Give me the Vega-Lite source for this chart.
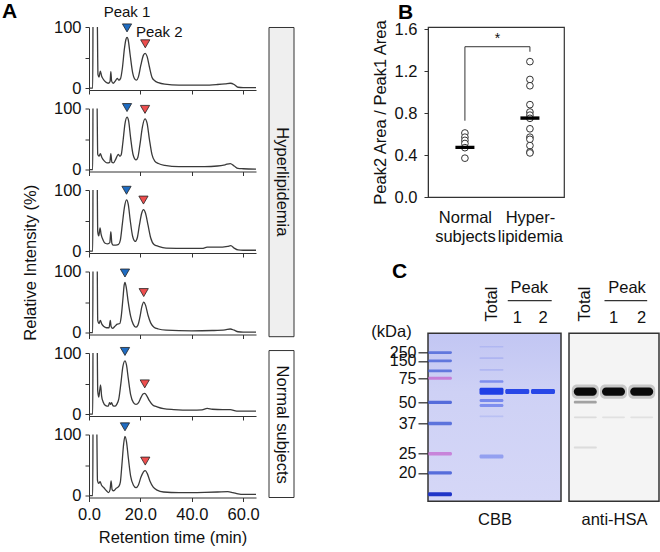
{
"$schema": "https://vega.github.io/schema/vega-lite/v6.json",
"padding": {"left": 2, "top": 1, "right": 0, "bottom": 0},
"datasets": {
"chrom": [
{"run":1,"t":0,"v":0},{"run":1,"t":1.45,"v":0},{"run":1,"t":1.6,"v":150},{"run":1,"t":3.1,"v":150},{"run":1,"t":3.5,"v":22},{"run":1,"t":3.9,"v":18},{"run":1,"t":4.4,"v":28},{"run":1,"t":4.9,"v":20},{"run":1,"t":5.5,"v":15},{"run":1,"t":6.5,"v":10},{"run":1,"t":7.5,"v":8},{"run":1,"t":8.2,"v":11},{"run":1,"t":8.5,"v":27},{"run":1,"t":8.8,"v":12},{"run":1,"t":9.4,"v":8},{"run":1,"t":10.3,"v":12},{"run":1,"t":11,"v":16},{"run":1,"t":11.6,"v":13},{"run":1,"t":12.3,"v":16},{"run":1,"t":13,"v":33},{"run":1,"t":13.8,"v":65},{"run":1,"t":14.4,"v":80},{"run":1,"t":14.8,"v":83},{"run":1,"t":15.2,"v":80},{"run":1,"t":16,"v":55},{"run":1,"t":17,"v":25},{"run":1,"t":18,"v":14},{"run":1,"t":18.5,"v":13},{"run":1,"t":19.2,"v":18},{"run":1,"t":20.2,"v":38},{"run":1,"t":21.2,"v":54},{"run":1,"t":21.9,"v":57},{"run":1,"t":22.6,"v":52},{"run":1,"t":23.5,"v":35},{"run":1,"t":24.5,"v":18},{"run":1,"t":25.6,"v":12},{"run":1,"t":27,"v":9},{"run":1,"t":29.5,"v":6.5},{"run":1,"t":35,"v":5},{"run":1,"t":45,"v":5},{"run":1,"t":50,"v":6},{"run":1,"t":53,"v":7},{"run":1,"t":55,"v":8},{"run":1,"t":56.5,"v":6},{"run":1,"t":58,"v":1.5},{"run":1,"t":60,"v":1},{"run":1,"t":65,"v":1},
{"run":2,"t":0,"v":0},{"run":2,"t":1.45,"v":0},{"run":2,"t":1.6,"v":150},{"run":2,"t":3.0,"v":150},{"run":2,"t":3.4,"v":25},{"run":2,"t":3.9,"v":22},{"run":2,"t":4.4,"v":26},{"run":2,"t":5.0,"v":20},{"run":2,"t":6.0,"v":14},{"run":2,"t":7.0,"v":11},{"run":2,"t":8.1,"v":12},{"run":2,"t":8.5,"v":26},{"run":2,"t":8.9,"v":12},{"run":2,"t":9.5,"v":11},{"run":2,"t":10.5,"v":18},{"run":2,"t":11.4,"v":25},{"run":2,"t":12.0,"v":22},{"run":2,"t":12.5,"v":24},{"run":2,"t":13.2,"v":45},{"run":2,"t":14.0,"v":75},{"run":2,"t":14.8,"v":86},{"run":2,"t":15.4,"v":80},{"run":2,"t":16.2,"v":52},{"run":2,"t":17.2,"v":24},{"run":2,"t":18.3,"v":16},{"run":2,"t":19.0,"v":20},{"run":2,"t":19.8,"v":40},{"run":2,"t":20.8,"v":70},{"run":2,"t":21.8,"v":83},{"run":2,"t":22.6,"v":76},{"run":2,"t":23.5,"v":50},{"run":2,"t":24.5,"v":25},{"run":2,"t":25.6,"v":14},{"run":2,"t":27,"v":10},{"run":2,"t":29.5,"v":7},{"run":2,"t":35,"v":5},{"run":2,"t":45,"v":5},{"run":2,"t":50,"v":6},{"run":2,"t":53,"v":8},{"run":2,"t":55,"v":10},{"run":2,"t":56.5,"v":6},{"run":2,"t":58,"v":2},{"run":2,"t":60,"v":1.5},{"run":2,"t":65,"v":1},
{"run":3,"t":0,"v":0},{"run":3,"t":1.45,"v":0},{"run":3,"t":1.6,"v":150},{"run":3,"t":3.1,"v":150},{"run":3,"t":3.4,"v":32},{"run":3,"t":3.8,"v":25},{"run":3,"t":4.3,"v":38},{"run":3,"t":4.7,"v":28},{"run":3,"t":5.5,"v":18},{"run":3,"t":6.3,"v":13},{"run":3,"t":7.3,"v":12},{"run":3,"t":8.1,"v":14},{"run":3,"t":8.5,"v":32},{"run":3,"t":8.9,"v":13},{"run":3,"t":9.4,"v":10},{"run":3,"t":10.5,"v":10},{"run":3,"t":11.5,"v":11},{"run":3,"t":12.2,"v":18},{"run":3,"t":13.0,"v":45},{"run":3,"t":13.8,"v":72},{"run":3,"t":14.6,"v":84},{"run":3,"t":15.3,"v":76},{"run":3,"t":16.0,"v":52},{"run":3,"t":17.0,"v":24},{"run":3,"t":18.0,"v":16},{"run":3,"t":18.8,"v":22},{"run":3,"t":19.6,"v":42},{"run":3,"t":20.5,"v":62},{"run":3,"t":21.2,"v":68},{"run":3,"t":22.0,"v":62},{"run":3,"t":23.0,"v":42},{"run":3,"t":24.0,"v":22},{"run":3,"t":25.3,"v":11},{"run":3,"t":27,"v":8},{"run":3,"t":30,"v":5},{"run":3,"t":38,"v":4.5},{"run":3,"t":44,"v":4.5},{"run":3,"t":46,"v":6.5},{"run":3,"t":50,"v":6.5},{"run":3,"t":54,"v":8},{"run":3,"t":55.2,"v":9},{"run":3,"t":56.5,"v":5},{"run":3,"t":58,"v":2},{"run":3,"t":60,"v":1.5},{"run":3,"t":65,"v":1.5},
{"run":4,"t":0,"v":0},{"run":4,"t":1.45,"v":0},{"run":4,"t":1.6,"v":150},{"run":4,"t":3.1,"v":150},{"run":4,"t":3.4,"v":20},{"run":4,"t":3.9,"v":15},{"run":4,"t":4.4,"v":20},{"run":4,"t":5.0,"v":14},{"run":4,"t":5.8,"v":10},{"run":4,"t":6.8,"v":8},{"run":4,"t":7.8,"v":8},{"run":4,"t":8.3,"v":20},{"run":4,"t":8.6,"v":10},{"run":4,"t":9.2,"v":7},{"run":4,"t":10.0,"v":10},{"run":4,"t":11.0,"v":14},{"run":4,"t":12.0,"v":15},{"run":4,"t":12.5,"v":25},{"run":4,"t":13.2,"v":55},{"run":4,"t":13.7,"v":78},{"run":4,"t":14.0,"v":82},{"run":4,"t":14.5,"v":74},{"run":4,"t":15.2,"v":52},{"run":4,"t":16.2,"v":27},{"run":4,"t":17.2,"v":14},{"run":4,"t":18.2,"v":9},{"run":4,"t":19.0,"v":12},{"run":4,"t":19.8,"v":25},{"run":4,"t":20.6,"v":43},{"run":4,"t":21.3,"v":50},{"run":4,"t":22.0,"v":45},{"run":4,"t":23.0,"v":28},{"run":4,"t":24.0,"v":16},{"run":4,"t":25.3,"v":9},{"run":4,"t":27,"v":6},{"run":4,"t":30,"v":4},{"run":4,"t":40,"v":3},{"run":4,"t":48,"v":3.5},{"run":4,"t":53,"v":4.5},{"run":4,"t":55,"v":6},{"run":4,"t":56.5,"v":4},{"run":4,"t":58,"v":1.5},{"run":4,"t":60,"v":1},{"run":4,"t":65,"v":1},
{"run":5,"t":0,"v":0},{"run":5,"t":1.45,"v":0},{"run":5,"t":1.6,"v":150},{"run":5,"t":3.1,"v":150},{"run":5,"t":3.4,"v":38},{"run":5,"t":3.8,"v":28},{"run":5,"t":4.2,"v":40},{"run":5,"t":4.5,"v":48},{"run":5,"t":4.9,"v":30},{"run":5,"t":5.5,"v":20},{"run":5,"t":6.5,"v":14},{"run":5,"t":7.5,"v":13},{"run":5,"t":8.0,"v":19},{"run":5,"t":8.4,"v":16},{"run":5,"t":8.8,"v":19},{"run":5,"t":9.3,"v":14},{"run":5,"t":10.0,"v":13},{"run":5,"t":10.8,"v":16},{"run":5,"t":11.6,"v":25},{"run":5,"t":12.4,"v":50},{"run":5,"t":13.2,"v":78},{"run":5,"t":14.0,"v":87},{"run":5,"t":14.6,"v":80},{"run":5,"t":15.3,"v":58},{"run":5,"t":16.2,"v":32},{"run":5,"t":17.3,"v":19},{"run":5,"t":18.3,"v":16},{"run":5,"t":19.3,"v":19},{"run":5,"t":20.2,"v":27},{"run":5,"t":21.0,"v":33},{"run":5,"t":21.7,"v":34},{"run":5,"t":22.5,"v":30},{"run":5,"t":23.5,"v":22},{"run":5,"t":24.8,"v":15},{"run":5,"t":26.5,"v":12},{"run":5,"t":29,"v":9},{"run":5,"t":33,"v":7.5},{"run":5,"t":40,"v":6.5},{"run":5,"t":44,"v":7},{"run":5,"t":46,"v":9.5},{"run":5,"t":48,"v":8},{"run":5,"t":52,"v":7.5},{"run":5,"t":55,"v":7.5},{"run":5,"t":57.5,"v":5},{"run":5,"t":60,"v":5},{"run":5,"t":65,"v":5},
{"run":6,"t":0,"v":0},{"run":6,"t":1.45,"v":0},{"run":6,"t":1.6,"v":150},{"run":6,"t":2.9,"v":150},{"run":6,"t":3.3,"v":25},{"run":6,"t":3.8,"v":20},{"run":6,"t":4.3,"v":23},{"run":6,"t":4.9,"v":17},{"run":6,"t":5.8,"v":13},{"run":6,"t":6.8,"v":8},{"run":6,"t":7.6,"v":5},{"run":6,"t":8.2,"v":10},{"run":6,"t":8.6,"v":24},{"run":6,"t":9.0,"v":10},{"run":6,"t":9.6,"v":8},{"run":6,"t":10.6,"v":12},{"run":6,"t":11.6,"v":15},{"run":6,"t":12.2,"v":22},{"run":6,"t":12.8,"v":50},{"run":6,"t":13.5,"v":85},{"run":6,"t":14.0,"v":97},{"run":6,"t":14.6,"v":88},{"run":6,"t":15.3,"v":62},{"run":6,"t":16.2,"v":32},{"run":6,"t":17.3,"v":17},{"run":6,"t":18.3,"v":13},{"run":6,"t":19.2,"v":17},{"run":6,"t":20.2,"v":30},{"run":6,"t":21.2,"v":39},{"run":6,"t":21.9,"v":41},{"run":6,"t":22.7,"v":36},{"run":6,"t":23.7,"v":24},{"run":6,"t":25.0,"v":14},{"run":6,"t":26.5,"v":9},{"run":6,"t":29,"v":6},{"run":6,"t":35,"v":5},{"run":6,"t":45,"v":5.5},{"run":6,"t":50,"v":6},{"run":6,"t":54,"v":6.5},{"run":6,"t":56,"v":5},{"run":6,"t":58,"v":3},{"run":6,"t":60,"v":2},{"run":6,"t":65,"v":2}
],
"peaks": [
{"run":1,"peak":"Peak 1","t":14.8,"v":83},{"run":1,"peak":"Peak 2","t":21.9,"v":57},
{"run":2,"peak":"Peak 1","t":14.8,"v":86},{"run":2,"peak":"Peak 2","t":21.8,"v":83},
{"run":3,"peak":"Peak 1","t":14.6,"v":84},{"run":3,"peak":"Peak 2","t":21.2,"v":68},
{"run":4,"peak":"Peak 1","t":14.0,"v":82},{"run":4,"peak":"Peak 2","t":21.3,"v":50},
{"run":5,"peak":"Peak 1","t":14.0,"v":87},{"run":5,"peak":"Peak 2","t":21.7,"v":34},
{"run":6,"peak":"Peak 1","t":14.0,"v":97},{"run":6,"peak":"Peak 2","t":21.9,"v":41}
],
"groups": [
{"group":"Hyperlipidemia","y0":0.006,"y1":3.80,"ym":1.90},
{"group":"Normal subjects","y0":3.97,"y1":5.773,"ym":4.88}
],
"ratios": [
{"group":"Normal subjects","ratio":0.61},{"group":"Normal subjects","ratio":0.57},{"group":"Normal subjects","ratio":0.54},{"group":"Normal subjects","ratio":0.51},{"group":"Normal subjects","ratio":0.47},{"group":"Normal subjects","ratio":0.37},
{"group":"Hyperlipidemia","ratio":1.29},{"group":"Hyperlipidemia","ratio":1.12},{"group":"Hyperlipidemia","ratio":1.06},{"group":"Hyperlipidemia","ratio":0.88},{"group":"Hyperlipidemia","ratio":0.81},{"group":"Hyperlipidemia","ratio":0.78},{"group":"Hyperlipidemia","ratio":0.75},{"group":"Hyperlipidemia","ratio":0.65},{"group":"Hyperlipidemia","ratio":0.57},{"group":"Hyperlipidemia","ratio":0.55},{"group":"Hyperlipidemia","ratio":0.49},{"group":"Hyperlipidemia","ratio":0.43},{"group":"Hyperlipidemia","ratio":0.42}
],
"medians": [
{"group":"Normal subjects","ratio":0.473},{"group":"Hyperlipidemia","ratio":0.752}
],
"bracket": [
{"group":"Normal subjects","ratio":0.727,"o":1},{"group":"Normal subjects","ratio":1.432,"o":2},{"group":"Hyperlipidemia","ratio":1.432,"o":3},{"group":"Hyperlipidemia","ratio":1.384,"o":4}
],
"cbb": [
{"lane":"M","top":0.107,"bot":0.123,"dye":"marker","intensity":0.75},
{"lane":"M","top":0.156,"bot":0.172,"dye":"marker","intensity":0.75},
{"lane":"M","top":0.216,"bot":0.232,"dye":"marker","intensity":0.75},
{"lane":"M","top":0.258,"bot":0.276,"dye":"pink","intensity":0.8},
{"lane":"M","top":0.401,"bot":0.421,"dye":"marker","intensity":0.85},
{"lane":"M","top":0.527,"bot":0.547,"dye":"marker","intensity":0.8},
{"lane":"M","top":0.706,"bot":0.728,"dye":"pink","intensity":0.75},
{"lane":"M","top":0.821,"bot":0.841,"dye":"marker","intensity":0.85},
{"lane":"M","top":0.946,"bot":0.970,"dye":"front","intensity":1},
{"lane":"Total","top":0.075,"bot":0.085,"dye":"protein","intensity":0.12},
{"lane":"Total","top":0.143,"bot":0.153,"dye":"protein","intensity":0.15},
{"lane":"Total","top":0.213,"bot":0.223,"dye":"protein","intensity":0.15},
{"lane":"Total","top":0.279,"bot":0.295,"dye":"protein","intensity":0.45},
{"lane":"Total","top":0.324,"bot":0.366,"dye":"protein","intensity":1},
{"lane":"Total","top":0.391,"bot":0.409,"dye":"protein","intensity":0.5},
{"lane":"Total","top":0.421,"bot":0.439,"dye":"protein","intensity":0.45},
{"lane":"Total","top":0.490,"bot":0.500,"dye":"protein","intensity":0.12},
{"lane":"Total","top":0.721,"bot":0.745,"dye":"protein","intensity":0.35},
{"lane":"P1","top":0.332,"bot":0.362,"dye":"protein","intensity":0.95},
{"lane":"P2","top":0.332,"bot":0.362,"dye":"protein","intensity":0.95}
],
"hsa": [
{"lane":"Total","top":0.322,"bot":0.372,"intensity":1},
{"lane":"Total","top":0.402,"bot":0.418,"intensity":0.35},
{"lane":"Total","top":0.495,"bot":0.505,"intensity":0.1},
{"lane":"Total","top":0.674,"bot":0.686,"intensity":0.1},
{"lane":"P1","top":0.322,"bot":0.372,"intensity":1},
{"lane":"P1","top":0.495,"bot":0.505,"intensity":0.08},
{"lane":"P2","top":0.322,"bot":0.372,"intensity":1},
{"lane":"P2","top":0.495,"bot":0.505,"intensity":0.08}
]
},
"hconcat": [
{
"hconcat": [
{
"vconcat": [
{"width":167,"height":63,
"encoding":{"x":{"field":"t","type":"quantitative","scale":{"domain":[0,65],"nice":false,"zero":false},"axis":{"values":[0,20,40,60],"labels":false,"title":null,"tickSize":4}},
"y":{"field":"v","type":"quantitative","scale":{"domain":[-3,100],"nice":false,"zero":false},"axis":{"values":[0,50,100],"labelExpr":"datum.value == 50 ? '' : datum.label","title":null,"tickSize":4,"labelPadding":4}}},
"layer":[
{"data":{"name":"chrom"},"transform":[{"filter":"datum.run == 1"}],"mark":{"type":"line","interpolate":"monotone","clip":true,"color":"#3a3a3a","strokeWidth":1.3}},
{"data":{"name":"peaks"},"transform":[{"filter":"datum.run == 1"}],"mark":{"type":"point","shape":"triangle-down","filled":true,"size":85,"stroke":"#222","strokeWidth":0.8,"yOffset":-9.5,"opacity":1},
"encoding":{"fill":{"field":"peak","type":"nominal","scale":{"domain":["Peak 1","Peak 2"],"range":["#1f6cc2","#ee4e4e"]},"legend":null}}},
{"data":{"name":"peaks"},"transform":[{"filter":"datum.run == 1 && datum.peak == 'Peak 1'"}],"mark":{"type":"text","fontSize":15,"dy":-25.5,"baseline":"middle","align":"center"},
"encoding":{"text":{"field":"peak"}}},
{"data":{"name":"peaks"},"transform":[{"filter":"datum.run == 1 && datum.peak == 'Peak 2'"}],"mark":{"type":"text","fontSize":15,"dx":14,"dy":-21,"baseline":"middle","align":"center"},
"encoding":{"text":{"field":"peak"}}}
]},
{"width":167,"height":63,
"encoding":{"x":{"field":"t","type":"quantitative","scale":{"domain":[0,65],"nice":false,"zero":false},"axis":{"values":[0,20,40,60],"labels":false,"title":null,"tickSize":4}},
"y":{"field":"v","type":"quantitative","scale":{"domain":[-3,100],"nice":false,"zero":false},"axis":{"values":[0,50,100],"labelExpr":"datum.value == 50 ? '' : datum.label","title":null,"tickSize":4,"labelPadding":4}}},
"layer":[
{"data":{"name":"chrom"},"transform":[{"filter":"datum.run == 2"}],"mark":{"type":"line","interpolate":"monotone","clip":true,"color":"#3a3a3a","strokeWidth":1.3}},
{"data":{"name":"peaks"},"transform":[{"filter":"datum.run == 2"}],"mark":{"type":"point","shape":"triangle-down","filled":true,"size":85,"stroke":"#222","strokeWidth":0.8,"yOffset":-9.5,"opacity":1},
"encoding":{"fill":{"field":"peak","type":"nominal","scale":{"domain":["Peak 1","Peak 2"],"range":["#1f6cc2","#ee4e4e"]},"legend":null}}}
]},
{"width":167,"height":63,
"encoding":{"x":{"field":"t","type":"quantitative","scale":{"domain":[0,65],"nice":false,"zero":false},"axis":{"values":[0,20,40,60],"labels":false,"title":null,"tickSize":4}},
"y":{"field":"v","type":"quantitative","scale":{"domain":[-3,100],"nice":false,"zero":false},"axis":{"values":[0,50,100],"labelExpr":"datum.value == 50 ? '' : datum.label","tickSize":4,"labelPadding":4,"title":"Relative Intensity (%)","titleX":-59,"titleY":72.25,"titleAngle":-90,"titleAlign":"center","titleBaseline":"middle"}}},
"layer":[
{"data":{"name":"chrom"},"transform":[{"filter":"datum.run == 3"}],"mark":{"type":"line","interpolate":"monotone","clip":true,"color":"#3a3a3a","strokeWidth":1.3}},
{"data":{"name":"peaks"},"transform":[{"filter":"datum.run == 3"}],"mark":{"type":"point","shape":"triangle-down","filled":true,"size":85,"stroke":"#222","strokeWidth":0.8,"yOffset":-9.5,"opacity":1},
"encoding":{"fill":{"field":"peak","type":"nominal","scale":{"domain":["Peak 1","Peak 2"],"range":["#1f6cc2","#ee4e4e"]},"legend":null}}}
]},
{"width":167,"height":63,
"encoding":{"x":{"field":"t","type":"quantitative","scale":{"domain":[0,65],"nice":false,"zero":false},"axis":{"values":[0,20,40,60],"labels":false,"title":null,"tickSize":4}},
"y":{"field":"v","type":"quantitative","scale":{"domain":[-3,100],"nice":false,"zero":false},"axis":{"values":[0,50,100],"labelExpr":"datum.value == 50 ? '' : datum.label","title":null,"tickSize":4,"labelPadding":4}}},
"layer":[
{"data":{"name":"chrom"},"transform":[{"filter":"datum.run == 4"}],"mark":{"type":"line","interpolate":"monotone","clip":true,"color":"#3a3a3a","strokeWidth":1.3}},
{"data":{"name":"peaks"},"transform":[{"filter":"datum.run == 4"}],"mark":{"type":"point","shape":"triangle-down","filled":true,"size":85,"stroke":"#222","strokeWidth":0.8,"yOffset":-9.5,"opacity":1},
"encoding":{"fill":{"field":"peak","type":"nominal","scale":{"domain":["Peak 1","Peak 2"],"range":["#1f6cc2","#ee4e4e"]},"legend":null}}}
]},
{"width":167,"height":63,
"encoding":{"x":{"field":"t","type":"quantitative","scale":{"domain":[0,65],"nice":false,"zero":false},"axis":{"values":[0,20,40,60],"labels":false,"title":null,"tickSize":4}},
"y":{"field":"v","type":"quantitative","scale":{"domain":[-3,100],"nice":false,"zero":false},"axis":{"values":[0,50,100],"labelExpr":"datum.value == 50 ? '' : datum.label","title":null,"tickSize":4,"labelPadding":4}}},
"layer":[
{"data":{"name":"chrom"},"transform":[{"filter":"datum.run == 5"}],"mark":{"type":"line","interpolate":"monotone","clip":true,"color":"#3a3a3a","strokeWidth":1.3}},
{"data":{"name":"peaks"},"transform":[{"filter":"datum.run == 5"}],"mark":{"type":"point","shape":"triangle-down","filled":true,"size":85,"stroke":"#222","strokeWidth":0.8,"yOffset":-9.5,"opacity":1},
"encoding":{"fill":{"field":"peak","type":"nominal","scale":{"domain":["Peak 1","Peak 2"],"range":["#1f6cc2","#ee4e4e"]},"legend":null}}}
]},
{"width":167,"height":63,
"encoding":{"x":{"field":"t","type":"quantitative","scale":{"domain":[0,65],"nice":false,"zero":false},"axis":{"values":[0,20,40,60],"format":".1f","title":"Retention time (min)","tickSize":4,"labelPadding":5,"titlePadding":6}},
"y":{"field":"v","type":"quantitative","scale":{"domain":[-3,100],"nice":false,"zero":false},"axis":{"values":[0,50,100],"labelExpr":"datum.value == 50 ? '' : datum.label","title":null,"tickSize":4,"labelPadding":4}}},
"layer":[
{"data":{"name":"chrom"},"transform":[{"filter":"datum.run == 6"}],"mark":{"type":"line","interpolate":"monotone","clip":true,"color":"#3a3a3a","strokeWidth":1.3}},
{"data":{"name":"peaks"},"transform":[{"filter":"datum.run == 6"}],"mark":{"type":"point","shape":"triangle-down","filled":true,"size":85,"stroke":"#222","strokeWidth":0.8,"yOffset":-9.5,"opacity":1},
"encoding":{"fill":{"field":"peak","type":"nominal","scale":{"domain":["Peak 1","Peak 2"],"range":["#1f6cc2","#ee4e4e"]},"legend":null}}}
]}
],
"spacing": 18.5,
"bounds": "flush",
"title": {"text":"A","anchor":"start","frame":"group","dx":-87,"offset":-17.6,"baseline":"top","fontSize":21,"fontWeight":"bold"}
},
{
"width": 25, "height": 470.5,
"data": {"name":"groups"},
"encoding": {"y":{"field":"y0","type":"quantitative","scale":{"domain":[0,5.773],"nice":false,"zero":false,"reverse":true},"axis":null}},
"layer": [
{"transform":[{"filter":"datum.group == 'Hyperlipidemia'"}],"mark":{"type":"rect","stroke":"#333","strokeWidth":1,"fill":"#efefef"},
"encoding":{"y2":{"field":"y1"}}},
{"transform":[{"filter":"datum.group == 'Normal subjects'"}],"mark":{"type":"rect","stroke":"#333","strokeWidth":1,"fill":"#ffffff"},
"encoding":{"y2":{"field":"y1"}}},
{"mark":{"type":"text","angle":90,"fontSize":16.5,"baseline":"middle","align":"center"},
"encoding":{"y":{"field":"ym","type":"quantitative","axis":null},"text":{"field":"group"}}}
]
}
],
"spacing": 180,
"bounds": "flush"
},
{
"vconcat": [
{
"width": 136, "height": 170,
"view": {"stroke":"#333","strokeWidth":1.2},
"title": {"text":"B","anchor":"start","frame":"group","dx":-30,"offset":-4.5,"baseline":"top","fontSize":21,"fontWeight":"bold"},
"encoding": {
"x":{"field":"group","type":"nominal","scale":{"type":"point","domain":["Normal subjects","Hyperlipidemia"],"padding":0.546,"align":0.52},
"axis":{"title":null,"ticks":false,"domain":false,"labelAngle":0,"labelPadding":12,"labelLineHeight":19,"labelExpr":"datum.value == 'Normal subjects' ? ['Normal', 'subjects'] : ['Hyper-', 'lipidemia']"}},
"y":{"field":"ratio","type":"quantitative","scale":{"domain":[0,1.62],"nice":false,"zero":false},
"axis":{"values":[0,0.4,0.8,1.2,1.6],"format":".1f","ticks":true,"tickSize":4,"labelPadding":7,"title":"Peak2 Area / Peak1 Area","titleFontSize":16.5,"titlePadding":6}}
},
"layer": [
{"data":{"name":"bracket"},"mark":{"type":"line","color":"#333","strokeWidth":1},
"encoding":{"order":{"field":"o","type":"quantitative"}}},
{"data":{"values":[{"group":"Normal subjects","ratio":1.505}]},"mark":{"type":"text","text":"*","fontSize":14,"dx":32.5,"baseline":"middle","align":"center"}},
{"data":{"name":"ratios"},"mark":{"type":"point","shape":"circle","filled":true,"fill":"#ffffff","stroke":"#333","strokeWidth":1,"size":45,"opacity":1}},
{"data":{"name":"medians"},"mark":{"type":"tick","color":"#000","thickness":3.4,"size":19,"opacity":1}}
]
},
{
"hconcat": [
{
"width": 133, "height": 168,
"view": {"fill": {"gradient":"linear","x1":0,"y1":0,"x2":0,"y2":1,"stops":[{"offset":0,"color":"#c2c6f3"},{"offset":0.35,"color":"#ced1f5"},{"offset":1,"color":"#d5d7f7"}]},"stroke":"#333","strokeWidth":1.5},
"encoding": {
"x":{"field":"lane","type":"nominal","scale":{"type":"point","domain":["M","e","Total","P1","P2"],"padding":0.5825,"align":0.4},
"axis":{"title":"CBB","labels":false,"ticks":false,"domain":false,"titlePadding":10}},
"y":{"field":"top","type":"quantitative","scale":{"domain":[0,1],"reverse":true,"nice":false,"zero":false},
"axis":{"values":[0.115,0.164,0.267,0.411,0.537,0.717,0.831],"labelExpr":"datum.value < 0.14 ? '250' : datum.value < 0.2 ? '150' : datum.value < 0.3 ? '75' : datum.value < 0.45 ? '50' : datum.value < 0.6 ? '37' : datum.value < 0.75 ? '25' : '20'","labelOverlap":false,"labelFontSize":16,"tickSize":10,"tickWidth":1.3,"domain":false,"labelPadding":2,"title":"(kDa)","titleAngle":0,"titleX":-37,"titleY":-2,"titleAlign":"center","titleBaseline":"middle",
"encode":{"labels":{"update":{"dy":{"signal":"datum.value < 0.14 ? -3 : datum.value < 0.2 ? 2 : 0"}}}}}}
},
"layer": [
{"data":{"name":"cbb"},"mark":{"type":"bar","width":24,"cornerRadius":1.5},
"encoding":{"y2":{"field":"bot"},
"color":{"field":"dye","type":"nominal","scale":{"domain":["marker","pink","front","protein"],"range":["#3f5bd6","#c46ad0","#2035c8","#1f3fe6"]},"legend":null},
"opacity":{"field":"intensity","type":"quantitative","scale":{"domain":[0,1],"range":[0,1]},"legend":null}}},
{"data":{"values":[{"lane":"Total","top":-0.174,"label":"Total"}]},"mark":{"type":"text","angle":270,"fontSize":16.5,"baseline":"middle","align":"center"},
"encoding":{"text":{"field":"label"}}},
{"data":{"values":[{"lane":"P1","top":-0.268,"label":"Peak"}]},"mark":{"type":"text","fontSize":16.5,"dx":12,"baseline":"middle","align":"center"},
"encoding":{"text":{"field":"label"}}},
{"data":{"values":[{"lane":"P1","lane2":"P2","top":-0.195}]},"mark":{"type":"rule","xOffset":-9.5,"x2Offset":8.7,"strokeWidth":1.2,"color":"#333"},
"encoding":{"x2":{"field":"lane2"}}},
{"data":{"values":[{"lane":"P1","top":-0.093,"label":"1"},{"lane":"P2","top":-0.093,"label":"2"}]},"mark":{"type":"text","fontSize":16.5,"baseline":"middle","align":"center"},
"encoding":{"text":{"field":"label"}}}
]
},
{
"width": 90, "height": 168,
"view": {"fill":"#f4f4f4","stroke":"#333","strokeWidth":1.5},
"encoding": {
"x":{"field":"lane","type":"nominal","scale":{"type":"point","domain":["Total","P1","P2"],"padding":0.596,"align":0.485},"axis":{"title":"anti-HSA","labels":false,"ticks":false,"domain":false,"titlePadding":10}},
"y":{"field":"top","type":"quantitative","scale":{"domain":[0,1],"reverse":true,"nice":false,"zero":false},"axis":null}
},
"layer": [
{"data":{"name":"hsa"},"transform":[{"filter":"datum.intensity >= 0.9"}],"mark":{"type":"bar","width":27,"cornerRadius":5,"color":"#000","opacity":0.18,"yOffset":-3,"y2Offset":3},
"encoding":{"y2":{"field":"bot"}}},
{"data":{"name":"hsa"},"mark":{"type":"bar","width":23,"cornerRadius":4,"color":"#0a0a0a"},
"encoding":{"y2":{"field":"bot"},"opacity":{"field":"intensity","type":"quantitative","scale":{"domain":[0,1],"range":[0,1]},"legend":null}}},
{"data":{"values":[{"lane":"Total","top":-0.174,"label":"Total"}]},"mark":{"type":"text","angle":270,"fontSize":16.5,"baseline":"middle","align":"center"},
"encoding":{"text":{"field":"label"}}},
{"data":{"values":[{"lane":"P1","top":-0.268,"label":"Peak"}]},"mark":{"type":"text","fontSize":16.5,"dx":13.5,"baseline":"middle","align":"center"},
"encoding":{"text":{"field":"label"}}},
{"data":{"values":[{"lane":"P1","lane2":"P2","top":-0.195}]},"mark":{"type":"rule","xOffset":-9,"x2Offset":5.5,"strokeWidth":1.2,"color":"#333"},
"encoding":{"x2":{"field":"lane2"}}},
{"data":{"values":[{"lane":"P1","top":-0.093,"label":"1"},{"lane":"P2","top":-0.093,"label":"2"}]},"mark":{"type":"text","fontSize":16.5,"baseline":"middle","align":"center"},
"encoding":{"text":{"field":"label"}}}
]
}
],
"spacing": 8,
"bounds": "flush",
"title": {"text":"C","anchor":"start","frame":"group","dx":-36,"offset":-2.45,"baseline":"top","fontSize":21,"fontWeight":"bold"}
}
],
"spacing": 136.3,
"bounds": "flush"
}
],
"spacing": 339,
"bounds": "flush",
"config": {
"font": "Liberation Sans",
"view": {"stroke": null},
"axis": {"grid": false, "labelFontSize": 16.5, "titleFontSize": 16.5, "titleFontWeight": "normal", "labelColor": "#111", "titleColor": "#111", "domainColor": "#333", "tickColor": "#333", "labelFlush": false, "labelFont": "Liberation Sans", "titleFont": "Liberation Sans"},
"title": {"color": "#000", "font": "Liberation Sans"},
"text": {"font": "Liberation Sans", "color": "#111"}
}
}
